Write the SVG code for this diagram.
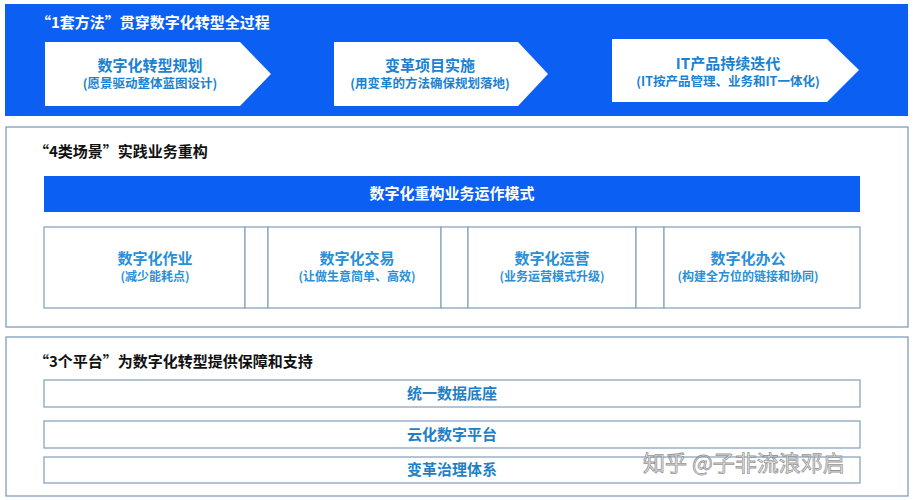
<svg xmlns="http://www.w3.org/2000/svg" width="915" height="500" viewBox="0 0 915 500">
<style>
text{font-family:"Noto Sans CJK SC","Noto Sans",sans-serif;}
.h{font-size:15px;font-weight:bold;}
.at{font-size:15px;font-weight:bold;fill:#1a82d0;text-anchor:middle;}
.as{font-size:12.5px;font-weight:bold;fill:#1a82d0;text-anchor:middle;}
.ct{font-size:15px;font-weight:bold;fill:#2b8fd6;text-anchor:middle;}
.cs{font-size:12px;font-weight:bold;fill:#2b8fd6;text-anchor:middle;}
.box{fill:#fff;stroke:#8aa6bf;stroke-width:1.3;}
.bar{fill:#fff;stroke:#8aa6bf;stroke-width:1.3;}
.bt{font-size:15px;font-weight:bold;fill:#1f80c6;text-anchor:middle;}
</style>
<rect width="915" height="500" fill="#fff"/>
<g id="method">
<rect x="5" y="4" width="903" height="112" fill="#0b5ff2"/>
<text x="36" y="28" class="h" fill="#fff">“1套方法”贯穿数字化转型全过程</text>
</g>
<g id="arrow1">
<polygon points="45,42 240,42 271,74 240,106 45,106" fill="#fff"/>
<text x="150" y="71" class="at">数字化转型规划</text>
<text x="150" y="88" class="as">(愿景驱动整体蓝图设计)</text>
</g>
<g id="arrow2">
<polygon points="334,42 518,42 548,74 518,106 334,106" fill="#fff"/>
<text x="430" y="71" class="at">变革项目实施</text>
<text x="430" y="88" class="as">(用变革的方法确保规划落地)</text>
</g>
<g id="arrow3">
<polygon points="612,39 827,39 859,70 827,102 612,102" fill="#fff"/>
<text x="728" y="69" class="at">IT产品持续迭代</text>
<text x="728" y="86" class="as">(IT按产品管理、业务和IT一体化)</text>
</g>
<g id="scenes">
<rect x="6" y="127" width="902" height="200" fill="#fff" stroke="#7f9fbf" stroke-width="1.3"/>
<text x="34" y="157" class="h" fill="#111">“4类场景”实践业务重构</text>
</g>
<g id="rebuild">
<rect x="44" y="176" width="816" height="36" fill="#0b5ff2"/>
<text x="452" y="199" class="h" fill="#fff" text-anchor="middle">数字化重构业务运作模式</text>
</g>
<g id="cell1">
<rect x="44" y="227" width="201" height="81" class="box"/>
<text x="155" y="264" class="ct">数字化作业</text>
<text x="155" y="281" class="cs">(减少能耗点)</text>
</g>
<g id="gap1"><rect x="245" y="227" width="23" height="81" class="box"/></g>
<g id="cell2">
<rect x="268" y="227" width="173" height="81" class="box"/>
<text x="357" y="264" class="ct">数字化交易</text>
<text x="357" y="281" class="cs">(让做生意简单、高效)</text>
</g>
<g id="gap2"><rect x="441" y="227" width="27" height="81" class="box"/></g>
<g id="cell3">
<rect x="468" y="227" width="168" height="81" class="box"/>
<text x="552" y="264" class="ct">数字化运营</text>
<text x="552" y="281" class="cs">(业务运营模式升级)</text>
</g>
<g id="gap3"><rect x="636" y="227" width="28" height="81" class="box"/></g>
<g id="cell4">
<rect x="664" y="227" width="196" height="81" class="box"/>
<text x="748" y="264" class="ct">数字化办公</text>
<text x="748" y="281" class="cs">(构建全方位的链接和协同)</text>
</g>
<g id="platforms">
<rect x="6" y="337" width="902" height="159" fill="#fff" stroke="#7f9fbf" stroke-width="1.3"/>
<text x="34" y="367" class="h" fill="#111">“3个平台”为数字化转型提供保障和支持</text>
</g>
<g id="p1">
<rect x="44" y="380" width="816" height="27" class="bar"/>
<text x="452" y="399" class="bt">统一数据底座</text>
</g>
<g id="p2">
<rect x="44" y="421" width="816" height="27" class="bar"/>
<text x="452" y="440" class="bt">云化数字平台</text>
</g>
<g id="p3">
<rect x="44" y="457" width="816" height="26" class="bar"/>
<text x="452" y="475" class="bt">变革治理体系</text>
</g>
<g id="watermark">
<text x="643" y="471" font-size="22" fill="#f2f2f2" stroke="#8c8c8c" stroke-width="0.8" opacity="0.9">知乎 @子非流浪邓启</text>
</g>
<g id="connectors"></g>
</svg>
